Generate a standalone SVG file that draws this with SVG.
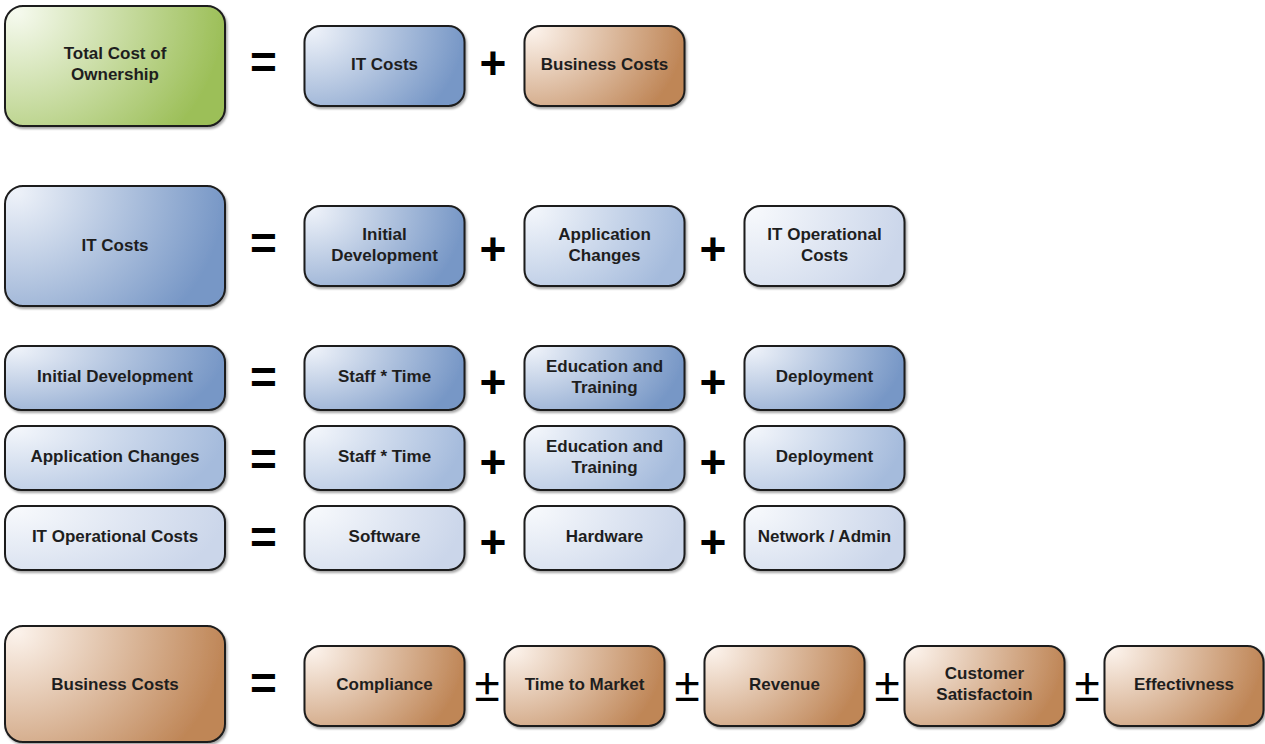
<svg xmlns="http://www.w3.org/2000/svg" width="1265" height="744" viewBox="0 0 1265 744">
<defs>
<radialGradient id="gBase" cx="0.05" cy="0.05" r="0.95" gradientTransform="translate(0.05,0.05) scale(1,1.6) translate(-0.05,-0.05)"/>
<radialGradient id="gGreen" href="#gBase"><stop offset="0" stop-color="#f6faef"/><stop offset="1" stop-color="#9cbf58"/></radialGradient>
<radialGradient id="gDark" href="#gBase"><stop offset="0" stop-color="#eef2f9"/><stop offset="1" stop-color="#7797c6"/></radialGradient>
<radialGradient id="gMed" href="#gBase"><stop offset="0" stop-color="#f3f6fb"/><stop offset="1" stop-color="#a5bbdc"/></radialGradient>
<radialGradient id="gLight" href="#gBase"><stop offset="0" stop-color="#f7f9fc"/><stop offset="1" stop-color="#cbd6ea"/></radialGradient>
<radialGradient id="gBrown" href="#gBase"><stop offset="0" stop-color="#fcf3ec"/><stop offset="1" stop-color="#bf8657"/></radialGradient>
<filter id="sh" x="-10%" y="-10%" width="120%" height="130%"><feDropShadow dx="1.5" dy="2" stdDeviation="1.2" flood-color="#000" flood-opacity="0.35"/></filter>
</defs>
<style>
rect{stroke:#1c1c1c;stroke-width:2;filter:url(#sh)}
.green{fill:url(#gGreen)}.dark{fill:url(#gDark)}.med{fill:url(#gMed)}.light{fill:url(#gLight)}.brown{fill:url(#gBrown)}
text{font-family:"Liberation Sans",Arial,sans-serif;font-weight:bold;font-size:17px;fill:#1e1e1e;text-anchor:middle}
.op{font-size:46px;fill:#000}
.pm{font-size:46px;font-weight:normal;fill:#000}
</style>
<g id="row1">
<g id="n-tco"><rect class="green" x="5" y="6" width="220" height="120" rx="18"/><text x="115" y="59">Total Cost of</text><text x="115" y="80">Ownership</text></g>
<text class="op" x="263.5" y="78">=</text>
<g id="n-itcosts1"><rect class="dark" x="304.5" y="26" width="160" height="80" rx="16"/><text x="384.5" y="70">IT Costs</text></g>
<text class="op" x="493" y="79">+</text>
<g id="n-bizcosts1"><rect class="brown" x="524.5" y="26" width="160" height="80" rx="16"/><text x="604.5" y="70">Business Costs</text></g>
</g>
<g id="row2">
<g id="n-itcosts"><rect class="dark" x="5" y="186" width="220" height="120" rx="18"/><text x="115" y="251">IT Costs</text></g>
<text class="op" x="263.5" y="259">=</text>
<g id="n-initdev1"><rect class="dark" x="304.5" y="206" width="160" height="80" rx="16"/><text x="384.5" y="240">Initial</text><text x="384.5" y="261">Development</text></g>
<text class="op" x="493" y="265">+</text>
<g id="n-appch1"><rect class="med" x="524.5" y="206" width="160" height="80" rx="16"/><text x="604.5" y="240">Application</text><text x="604.5" y="261">Changes</text></g>
<text class="op" x="713" y="265">+</text>
<g id="n-itop1"><rect class="light" x="744.5" y="206" width="160" height="80" rx="16"/><text x="824.5" y="240">IT Operational</text><text x="824.5" y="261">Costs</text></g>
</g>
<g id="row3">
<g id="n-initdev"><rect class="dark" x="5" y="346" width="220" height="64" rx="16"/><text x="115" y="382">Initial Development</text></g>
<text class="op" x="263.5" y="393">=</text>
<g id="n-staff1"><rect class="dark" x="304.5" y="346" width="160" height="64" rx="16"/><text x="384.5" y="382">Staff * Time</text></g>
<text class="op" x="493" y="398">+</text>
<g id="n-edu1"><rect class="dark" x="524.5" y="346" width="160" height="64" rx="16"/><text x="604.5" y="372">Education and</text><text x="604.5" y="393">Training</text></g>
<text class="op" x="713" y="398">+</text>
<g id="n-dep1"><rect class="dark" x="744.5" y="346" width="160" height="64" rx="16"/><text x="824.5" y="382">Deployment</text></g>
</g>
<g id="row4">
<g id="n-appch"><rect class="med" x="5" y="426" width="220" height="64" rx="16"/><text x="115" y="462">Application Changes</text></g>
<text class="op" x="263.5" y="475">=</text>
<g id="n-staff2"><rect class="med" x="304.5" y="426" width="160" height="64" rx="16"/><text x="384.5" y="462">Staff * Time</text></g>
<text class="op" x="493" y="478">+</text>
<g id="n-edu2"><rect class="med" x="524.5" y="426" width="160" height="64" rx="16"/><text x="604.5" y="452">Education and</text><text x="604.5" y="473">Training</text></g>
<text class="op" x="713" y="478">+</text>
<g id="n-dep2"><rect class="med" x="744.5" y="426" width="160" height="64" rx="16"/><text x="824.5" y="462">Deployment</text></g>
</g>
<g id="row5">
<g id="n-itop"><rect class="light" x="5" y="506" width="220" height="64" rx="16"/><text x="115" y="542">IT Operational Costs</text></g>
<text class="op" x="263.5" y="553">=</text>
<g id="n-sw"><rect class="light" x="304.5" y="506" width="160" height="64" rx="16"/><text x="384.5" y="542">Software</text></g>
<text class="op" x="493" y="558">+</text>
<g id="n-hw"><rect class="light" x="524.5" y="506" width="160" height="64" rx="16"/><text x="604.5" y="542">Hardware</text></g>
<text class="op" x="713" y="558">+</text>
<g id="n-net"><rect class="light" x="744.5" y="506" width="160" height="64" rx="16"/><text x="824.5" y="542">Network / Admin</text></g>
</g>
<g id="row6">
<g id="n-biz"><rect class="brown" x="5" y="626" width="220" height="116" rx="18"/><text x="115" y="690">Business Costs</text></g>
<text class="op" x="263.5" y="699">=</text>
<g id="n-comp"><rect class="brown" x="304.5" y="646" width="160" height="80" rx="16"/><text x="384.5" y="690">Compliance</text></g>
<text class="pm" x="487" y="701">±</text>
<g id="n-ttm"><rect class="brown" x="504.5" y="646" width="160" height="80" rx="16"/><text x="584.5" y="690">Time to Market</text></g>
<text class="pm" x="687" y="701">±</text>
<g id="n-rev"><rect class="brown" x="704.5" y="646" width="160" height="80" rx="16"/><text x="784.5" y="690">Revenue</text></g>
<text class="pm" x="887" y="701">±</text>
<g id="n-cs"><rect class="brown" x="904.5" y="646" width="160" height="80" rx="16"/><text x="984.5" y="679">Customer</text><text x="984.5" y="700">Satisfactoin</text></g>
<text class="pm" x="1087" y="701">±</text>
<g id="n-eff"><rect class="brown" x="1104.5" y="646" width="159" height="80" rx="16"/><text x="1184" y="690">Effectivness</text></g>
</g>
<g id="connectors"/>
</svg>
